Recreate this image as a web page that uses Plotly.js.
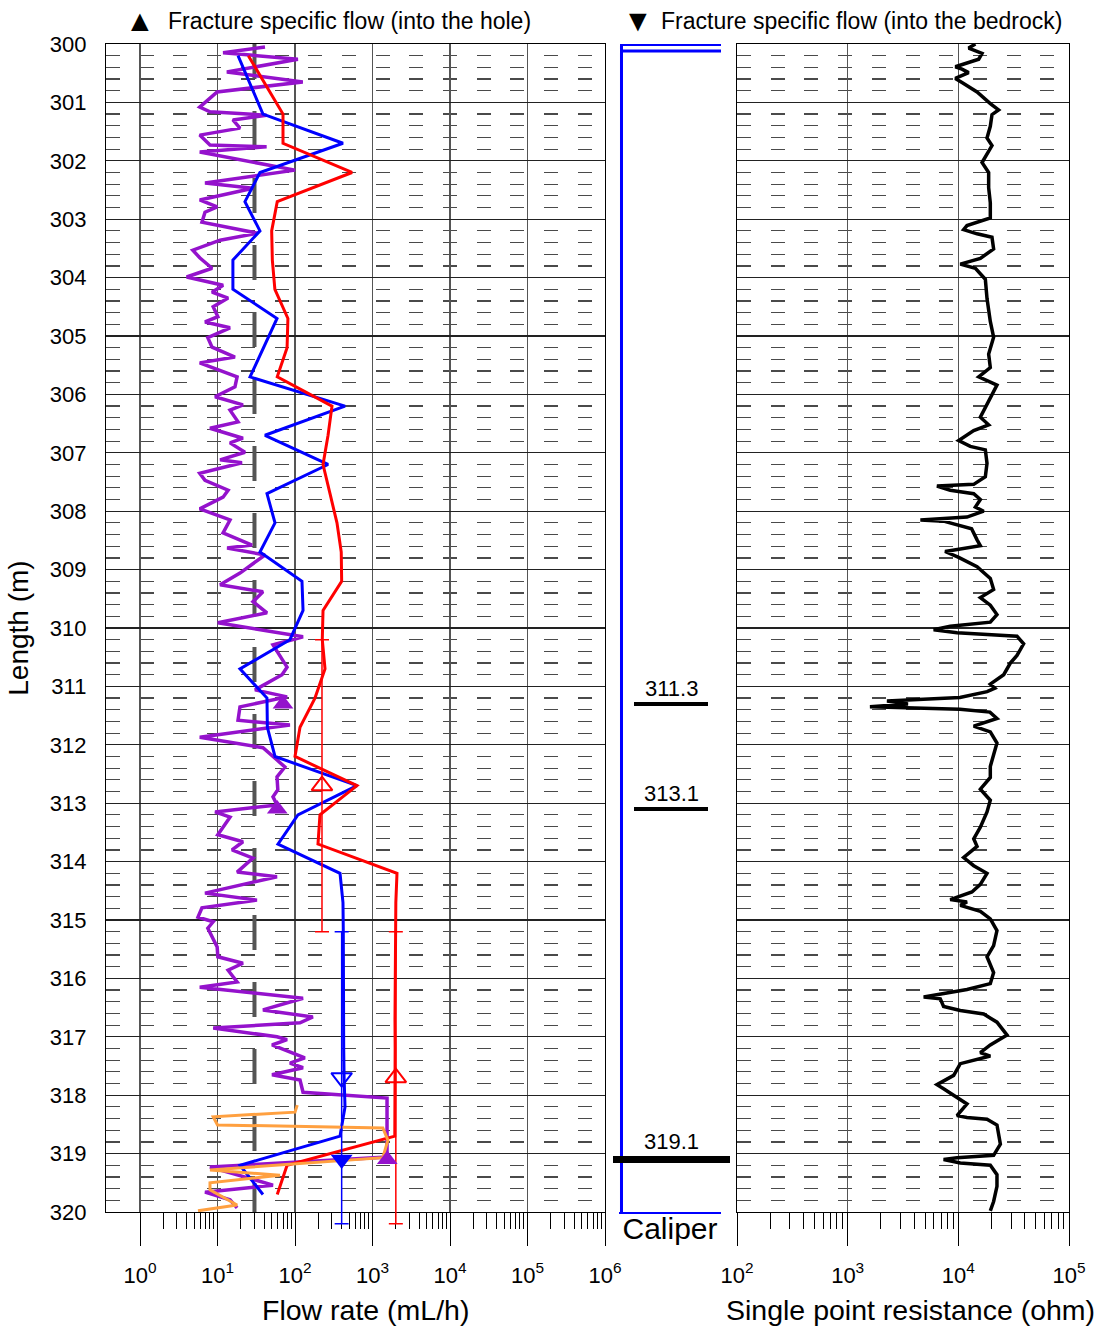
<!DOCTYPE html>
<html><head><meta charset="utf-8">
<script src="https://cdn.plot.ly/plotly-3.0.1.min.js"></script>
<style>html,body{margin:0;padding:0;background:#fff}#chart{width:1104px;height:1327px}</style>
</head><body><div id="chart"></div>
<script>
// ---------- DATA ----------
const depthTicks = [300,301,302,303,304,305,306,307,308,309,310,311,312,313,314,315,316,317,318,319,320];
const flowTickVals = [1,10,100,1000,10000,100000,1000000];
const flowTickText = ['10<sup>0</sup>','10<sup>1</sup>','10<sup>2</sup>','10<sup>3</sup>','10<sup>4</sup>','10<sup>5</sup>','10<sup>6</sup>'];
const resTickVals = [100,1000,10000,100000];
const resTickText = ['10<sup>2</sup>','10<sup>3</sup>','10<sup>4</sup>','10<sup>5</sup>'];

// lower measurement limit (mL/h)
const limitDepth = [300, 320];
const limitFlow = [30, 30];

// measured flow, fine steps (purple)
const purpleDepth = [300.05,300.15,300.26,300.48,300.65,300.82,301.08,301.16,301.22,301.30,301.44,301.56,301.73,301.76,301.85,302.16,302.38,302.47,302.67,302.79,302.88,303.05,303.24,303.36,303.53,303.66,303.84,303.99,304.13,304.25,304.35,304.50,304.67,304.76,304.86,305.03,305.19,305.36,305.46,305.70,305.87,306.04,306.18,306.27,306.47,306.58,306.75,306.83,306.99,307.12,307.17,307.35,307.47,307.64,307.76,307.96,308.15,308.37,308.58,308.63,308.75,309.06,309.26,309.38,309.55,309.74,309.91,310.15,310.29,310.67,310.80,311.06,311.18,311.35,311.58,311.66,311.87,312.05,312.26,312.38,312.55,312.77,312.89,313.03,313.15,313.24,313.54,313.66,313.80,313.94,314.18,314.26,314.54,314.66,314.79,314.95,315.03,315.14,315.46,315.63,315.74,315.86,316.06,316.15,316.34,316.54,316.66,316.76,316.85,317.00,317.05,317.14,317.36,317.45,317.53,317.65,317.74,317.95,318.05,318.37,318.72,319.06,319.23,319.54,319.66,319.79,319.93];
const purpleFlow = [41,11.8,109,13.2,126,9.9,5.9,8.0,43,15.8,19.5,5.9,8.0,43,5.9,100,6.9,28.7,5.9,9.9,6.9,6.3,33,10.8,4.8,5.9,8.5,4.0,11.8,8.5,13.7,8.8,10.1,6.9,14.5,7.5,8.5,16.8,5.9,17.9,16.8,9.3,21.3,14.5,18.4,8.0,21.3,14.5,22.6,10.8,20.7,5.9,6.9,13.7,11.8,5.9,14.5,11.8,27.9,13.3,41,19.5,10.8,38.6,28.7,43.5,10.1,127,52,79,68,30.5,79,19.5,18.4,86,5.9,38.6,58.6,74,58.6,60,52,58.6,9.3,14.5,10.1,21.3,15.4,28.7,17.9,58.6,6.9,32.3,6.3,5.6,8.8,7.5,9.9,10.1,21.3,13.7,17.9,5.9,127,38.6,170,116,8.8,58.6,79,50.5,134,86,127,50.5,116,127,1540,1540,1580,1540,8.0,52,6.9,14.5,17.9];

// 0.5 m steps (blue)
const blueDepth = [300.2,301.2,301.7,302.2,302.7,303.2,303.7,304.2,304.7,305.7,306.2,306.7,307.2,307.7,308.2,308.7,309.2,309.7,310.2,310.7,311.2,311.7,312.2,312.7,313.2,313.7,314.2,314.7,315.2,315.7,316.2,316.7,317.2,317.7,318.2,318.7,319.2,319.7];
const blueFlow = [18.4,38.6,416,35.3,22.6,35.3,15.8,15.8,58.6,26.3,442,41,267,43.5,55.2,35.3,123,127,86,19.5,43.5,44,55.2,631,109,60.3,381,416,420,420,420,420,425,430,442,381,19.5,38.6];

// 0.5 m steps (red)
const redDepth = [300.2,301.2,301.7,302.2,302.7,303.2,303.7,304.2,304.7,305.2,305.7,306.2,306.7,307.2,307.7,308.2,308.7,309.2,309.7,310.2,310.7,311.2,311.7,312.2,312.7,313.2,313.7,314.2,314.7,315.2,315.7,316.2,316.7,317.2,317.7,318.2,318.7,319.2,319.7];
const redFlow = [25,70,70,544,59,50,51,55,81,79,59,300,267,230,283,348,395,400,230,225,244,181,116,100,630,210,198,2070,2000,1980,1950,1950,1950,1960,1960,1960,1940,79,59];

// orange
const orangeDepth = [318.17,318.29,318.37,318.51,318.56,318.77,319.07,319.28,319.37,319.50,319.62,319.88,319.98];
const orangeFlow = [107,100,8.8,10,1360,1580,1360,8.0,64,8.0,8.0,17.9,5.6];

// fracture specific flow points
const redOpenDepth = [312.7, 317.7];
const redOpenFlow = [223, 2000];
const blueOpenDepth = [317.7];
const blueOpenFlow = [400];
const errHalf = [2.5, 2.5];
const blueFilledDepth = [319.1];
const blueFilledFlow = [400];
const purpleTriDepth = [311.3, 313.1, 319.1];
const purpleTriFlow = [70, 59, 1550];

// caliper
const caliperDepth = [300.01,300.01,300.01,300.12,300.12,300.12,320.0];
const caliperMM = [76.0,76.9,76.0,76.0,76.9,76.0,76.0];
const fractureDepth = [311.3, 313.1, 319.1];
const fractureLabel = ['311.3','313.1','319.1'];

// single point resistance (ohm)
const resDepth = [300.00,300.07,300.16,300.26,300.39,300.43,300.49,300.59,300.66,300.82,301.02,301.13,301.21,301.41,301.61,301.74,302.03,302.20,302.46,302.72,302.98,303.11,303.18,303.25,303.31,303.51,303.67,303.77,303.84,304.03,304.36,304.75,305.02,305.31,305.54,305.70,305.84,306.07,306.39,306.52,306.62,306.79,306.89,306.95,307.18,307.41,307.54,307.57,307.64,307.70,307.80,307.93,308.00,308.10,308.15,308.17,308.23,308.30,308.49,308.59,308.69,308.79,308.95,309.15,309.34,309.48,309.61,309.77,309.90,309.97,310.03,310.08,310.14,310.27,310.47,310.60,310.80,310.96,311.03,311.09,311.19,311.22,311.25,311.30,311.35,311.39,311.44,311.55,311.68,311.78,311.97,312.17,312.37,312.56,312.76,312.95,313.15,313.41,313.61,313.74,313.93,314.07,314.20,314.39,314.52,314.65,314.69,314.75,314.85,314.98,315.18,315.44,315.63,315.90,316.09,316.19,316.32,316.35,316.48,316.55,316.61,316.75,316.97,317.14,317.27,317.33,317.46,317.66,317.82,317.89,318.15,318.35,318.38,318.41,318.51,318.84,319.03,319.07,319.10,319.16,319.20,319.36,319.56,319.82,319.98];
const resOhm = [14260,12390,16370,15280,9400,10790,12390,9400,10790,14760,19450,23120,20140,19450,18160,20140,16370,18790,18790,19450,19450,11970,11170,14760,20140,20840,15810,10420,14260,17540,18160,19450,20840,18790,19450,15280,22340,19450,15810,18790,13770,10070,12820,17540,18160,17540,13770,6410,8450,13770,15810,14260,16940,11970,4540,7360,9770,13180,14760,15810,7590,10070,14760,19450,20840,15810,19450,22340,19450,8450,5980,9730,33880,38900,33880,29510,25700,19450,21380,18200,10330,5000,2265,3510,1590,10330,19280,22340,13770,19450,22340,20840,19450,19450,15810,19450,18160,15810,13770,14760,11170,13770,18160,15810,13270,8450,11970,10420,15810,19450,22340,20840,18160,20840,19450,11970,4860,6870,7360,10420,16940,22340,27540,19450,15810,19450,10420,9080,6410,7360,11970,9730,11970,18160,22340,23990,20840,9730,7360,10420,19450,22340,22340,20840,19450];

// ---------- LAYOUT HELPERS ----------
const W = 1104, H = 1327;
const L = 106, R = 1069, T = 44, PB = 1240;   // plot area (px)
const AX_BOTTOM = 1212;                       // pixel of 320 m
const PW = R - L, PH = PB - T;
const fx = p => (p - L) / PW;
const fy = p => (PB - p) / PH;
const FONT = 'Liberation Sans, Arial, sans-serif';
const pxPerM = (AX_BOTTOM - T) / (depthTicks[depthTicks.length - 1] - depthTicks[0]);
const extDepth = depthTicks[depthTicks.length - 1] + (PB - AX_BOTTOM) / pxPerM;

const minorFlowTicks = [];
for (let d = 0; d < 6; d++) for (let k = 2; k <= 9; k++) minorFlowTicks.push(k * Math.pow(10, d));
const minorResTicks = [];
for (let d = 2; d < 5; d++) for (let k = 2; k <= 9; k++) minorResTicks.push(k * Math.pow(10, d));

const purple = '#9412CC', orange = '#FFA040';

const traces = [
  {x: limitFlow, y: limitDepth, xaxis:'x', yaxis:'y', mode:'lines', line:{color:'#555555', width:4, dash:'35px,32px'}, hoverinfo:'skip'},
  {x: purpleFlow, y: purpleDepth, xaxis:'x', yaxis:'y', mode:'lines', line:{color:purple, width:3.5}},
  {x: blueFlow, y: blueDepth, xaxis:'x', yaxis:'y', mode:'lines', line:{color:'#0000FF', width:3}},
  {x: redFlow, y: redDepth, xaxis:'x', yaxis:'y', mode:'lines', line:{color:'#FF0000', width:3}},
  {x: orangeFlow, y: orangeDepth, xaxis:'x', yaxis:'y', mode:'lines', line:{color:orange, width:3}},
  {x: redOpenFlow, y: redOpenDepth, xaxis:'x4', yaxis:'y4', mode:'markers', cliponaxis:false,
   marker:{symbol:'triangle-up-open', size:18, color:'#FF0000', line:{width:2, color:'#FF0000'}},
   error_y:{type:'data', array:errHalf, color:'#FF0000', thickness:1.5, width:7}},
  {x: blueOpenFlow, y: blueOpenDepth, xaxis:'x4', yaxis:'y4', mode:'markers', cliponaxis:false,
   marker:{symbol:'triangle-down-open', size:18, color:'#0000FF', line:{width:2, color:'#0000FF'}},
   error_y:{type:'data', array:[errHalf[0]], color:'#0000FF', thickness:1.5, width:7}},
  {x: blueFilledFlow, y: blueFilledDepth, xaxis:'x4', yaxis:'y4', mode:'markers', cliponaxis:false,
   marker:{symbol:'triangle-down', size:19, color:'#0000FF'}},
  {x: purpleTriFlow, y: purpleTriDepth, xaxis:'x4', yaxis:'y4', mode:'markers', cliponaxis:false,
   marker:{symbol:'triangle-up', size:18, color:purple}},
  {x: caliperMM, y: caliperDepth, xaxis:'x3', yaxis:'y3', mode:'lines', line:{color:'#0000FF', width:3}},
  {x: resOhm, y: resDepth, xaxis:'x2', yaxis:'y2', mode:'lines', line:{color:'#000000', width:3.5}}
];

const minorY = {dtick:0.2, tick0:300, showgrid:true, griddash:'14px,19.7px', gridcolor:'#4a4a4a', gridwidth:1.2, ticks:''};
const yDomain = [fy(AX_BOTTOM), 1];

const shapes = fractureDepth.map((d, i) => {
  const wide = i === fractureDepth.length - 1;
  return {type:'line', xref:'paper', yref:'y3', x0: fx(wide ? 613 : 634), x1: fx(wide ? 730 : 708), y0:d, y1:d,
          line:{color:'#000', width: wide ? 7 : 4}};
});

const annotations = fractureDepth.map((d, i) => ({
  xref:'paper', yref:'y3', x: fx(671), y: d, text: fractureLabel[i], showarrow:false,
  xanchor:'center', yanchor:'bottom', yshift: i === 2 ? 3 : 1, font:{family:FONT, size:22, color:'#000'}
}));
annotations.push(
  {xref:'paper', yref:'paper', x:fx(140), y:fy(20), text:'▲', showarrow:false, xanchor:'center', yanchor:'middle', font:{family:FONT, size:30, color:'#000'}},
  {xref:'paper', yref:'paper', x:fx(166), y:fy(21), text:'Fracture specific flow (into the hole)', showarrow:false, xanchor:'left', yanchor:'middle', font:{family:FONT, size:23, color:'#000'}},
  {xref:'paper', yref:'paper', x:fx(638), y:fy(20), text:'▼', showarrow:false, xanchor:'center', yanchor:'middle', font:{family:FONT, size:30, color:'#000'}},
  {xref:'paper', yref:'paper', x:fx(659), y:fy(21), text:'Fracture specific flow (into the bedrock)', showarrow:false, xanchor:'left', yanchor:'middle', font:{family:FONT, size:23, color:'#000'}},
  {xref:'paper', yref:'paper', x:fx(365), y:fy(1310), text:'Flow rate (mL/h)', showarrow:false, xanchor:'center', yanchor:'middle', font:{family:FONT, size:28.5, color:'#000'}},
  {xref:'paper', yref:'paper', x:fx(910), y:fy(1310), text:'Single point resistance (ohm)', showarrow:false, xanchor:'center', yanchor:'middle', font:{family:FONT, size:28.5, color:'#000'}}
);

const flowRange = [-(140 - L) / 77.5, 6];

const layout = {
  width: W, height: H,
  margin: {l: L, r: W - R, t: T, b: H - PB, pad: 0},
  paper_bgcolor:'#fff', plot_bgcolor:'rgba(0,0,0,0)',
  showlegend:false,
  font:{family:FONT, color:'#000'},
  xaxis: {
    domain:[0, fx(605)], anchor:'y', type:'log', range: flowRange,
    tickmode:'array', tickvals: flowTickVals, ticktext: flowTickText,
    ticks:'outside', ticklen:33, tickcolor:'#000', tickwidth:1, ticklabelstandoff:10,
    tickfont:{family:FONT, size:22, color:'#000'},
    minor:{tickmode:'array', tickvals: minorFlowTicks, ticks:'outside', ticklen:16, tickcolor:'#000', tickwidth:1, showgrid:false},
    showgrid:true, gridcolor:'#555', gridwidth:1.2,
    showline:true, mirror:true, linecolor:'#000', linewidth:1.2, zeroline:false
  },
  yaxis: {
    domain: yDomain, anchor:'x', range:[320,300], tickmode:'array', tickvals: depthTicks,
    ticks:'', ticklabelstandoff:14, tickfont:{family:FONT, size:22, color:'#000'},
    showgrid:true, gridcolor:'#222', gridwidth:1.2, minor: minorY,
    showline:true, mirror:true, linecolor:'#000', linewidth:1.2, zeroline:false,
    title:{text:'Length (m)', font:{family:FONT, size:28, color:'#000'}, standoff:12}
  },
  xaxis2: {
    domain:[fx(737), 1], anchor:'y2', type:'log', range:[2,5],
    tickmode:'array', tickvals: resTickVals, ticktext: resTickText,
    ticks:'outside', ticklen:33, tickcolor:'#000', tickwidth:1, ticklabelstandoff:10,
    tickfont:{family:FONT, size:22, color:'#000'},
    minor:{tickmode:'array', tickvals: minorResTicks, ticks:'outside', ticklen:16, tickcolor:'#000', tickwidth:1, showgrid:false},
    showgrid:true, gridcolor:'#555', gridwidth:1.2,
    showline:true, mirror:true, linecolor:'#000', linewidth:1.2, zeroline:false
  },
  yaxis2: {
    domain: yDomain, anchor:'x2', range:[320,300], tickmode:'array', tickvals: depthTicks,
    showticklabels:false, ticks:'',
    showgrid:true, gridcolor:'#222', gridwidth:1.2, minor: minorY,
    showline:true, mirror:true, linecolor:'#000', linewidth:1.2, zeroline:false
  },
  xaxis3: {
    domain:[fx(619), fx(721)], anchor:'y3', range:[75.98, 76.8],
    showgrid:false, zeroline:false, showticklabels:false, ticks:'',
    showline:true, linecolor:'#0000FF', linewidth:1.5,
    title:{text:'Caliper', font:{family:FONT, size:30, color:'#000'}, standoff:5}
  },
  yaxis3: {domain: yDomain, anchor:'x3', range:[320,300], visible:false},
  // invisible helper axes with the same scale, extended below 320 m so error-bar caps are not clipped
  xaxis4: {domain:[0, fx(605)], anchor:'y4', type:'log', range: flowRange, visible:false, showgrid:false},
  yaxis4: {domain:[0, 1], anchor:'x4', range:[extDepth, 300], visible:false, showgrid:false},
  shapes: shapes,
  annotations: annotations
};

Plotly.newPlot('chart', traces, layout, {staticPlot:true, displayModeBar:false});
</script></body></html>
